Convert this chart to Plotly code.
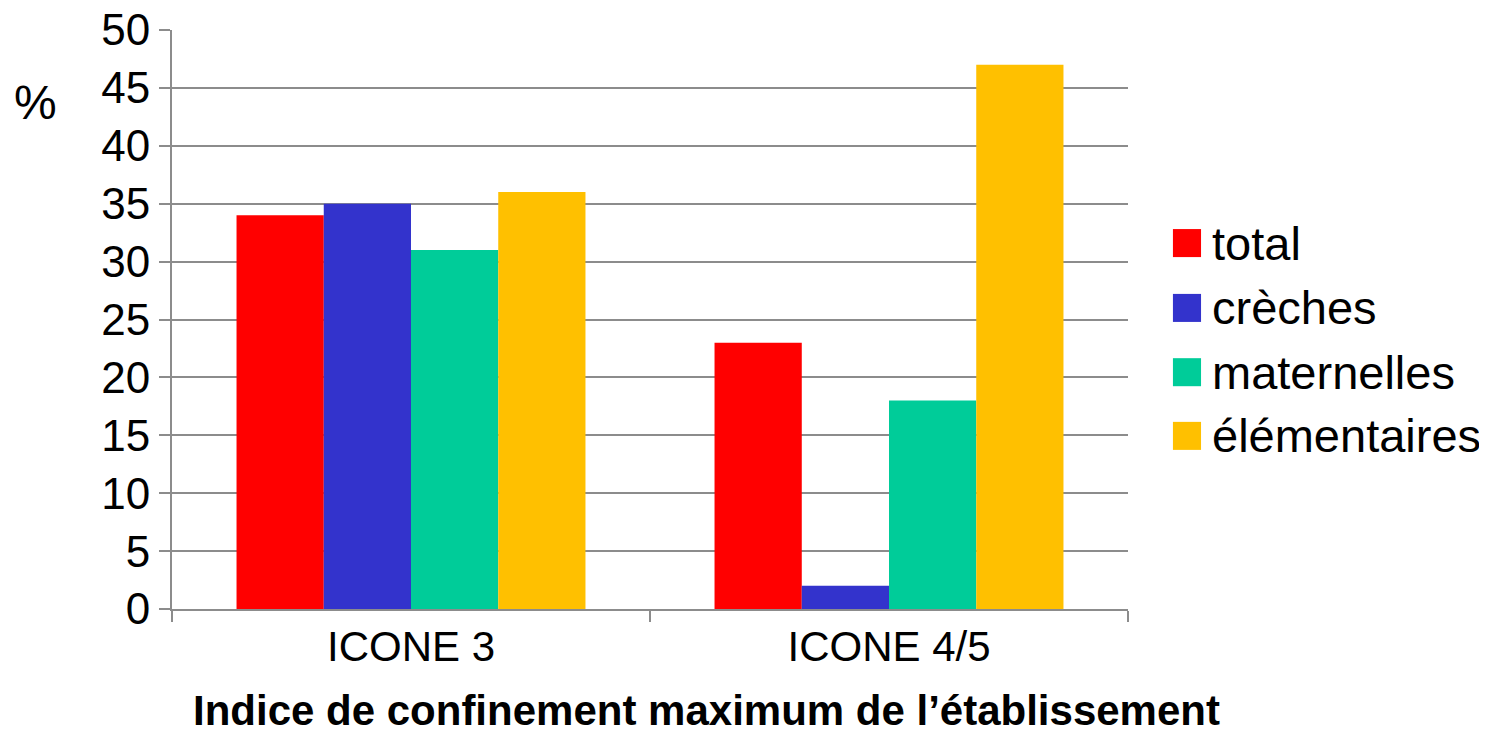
import plotly.graph_objects as go

categories = ["ICONE 3", "ICONE 4/5"]
series_names = ["total", "crèches", "maternelles", "élémentaires"]
total = [34, 23]
creches = [35, 2]
maternelles = [31, 18]
elementaires = [36, 47]
series_values = [total, creches, maternelles, elementaires]
colors = ["#FF0000", "#3333CC", "#00CC99", "#FFC000"]
y_ticks = list(range(0, 51, 5))

FONT = "Liberation Sans, Arial, sans-serif"
GRID = "#8c8c8c"

fig = go.Figure()
for name, vals, col in zip(series_names, series_values, colors):
    fig.add_trace(go.Bar(x=categories, y=vals, name=name, marker_color=col,
                         marker_line_width=0, showlegend=False))

# custom legend (large squares)
legend_y = [0.632, 0.520, 0.409, 0.299]
shapes = []
annotations = []
for name, col, ly in zip(series_names, colors, legend_y):
    shapes.append(dict(type="rect", xref="paper", yref="paper",
                       x0=1.047, x1=1.0764, y0=ly - 0.0242, y1=ly + 0.0242,
                       fillcolor=col, line_width=0))
    annotations.append(dict(x=1.086, y=ly, xref="paper", yref="paper", text=name,
                            showarrow=False, xanchor="left", yanchor="middle",
                            font=dict(family=FONT, size=47, color="black")))

annotations.append(dict(x=-0.1433, y=0.874, xref="paper", yref="paper", text="%",
                        showarrow=False, xanchor="center", yanchor="middle",
                        font=dict(family=FONT, size=48, color="black")))
annotations.append(dict(x=0.5596, y=-0.175, xref="paper", yref="paper",
                        text="<b>Indice de confinement maximum de l’établissement</b>",
                        showarrow=False, xanchor="center", yanchor="middle",
                        font=dict(family=FONT, size=42, color="black")))

fig.update_layout(
    width=1479, height=721,
    margin=dict(l=164, r=359, t=22, b=120, autoexpand=False),
    paper_bgcolor="white", plot_bgcolor="white",
    barmode="group", bargap=0.27, bargroupgap=0,
    font=dict(family=FONT, color="black"),
    shapes=shapes, annotations=annotations,
    showlegend=False,
)
fig.update_xaxes(
    tickson="boundaries", ticks="outside", ticklen=11, tickwidth=2, tickcolor=GRID,
    showline=True, linecolor=GRID, linewidth=2, showgrid=False, automargin=False,
    tickfont=dict(family=FONT, size=42, color="black"),
)
fig.update_yaxes(
    range=[0, 50], tickvals=y_ticks, ticks="outside", ticklen=11, tickwidth=2,
    tickcolor=GRID, showline=True, linecolor=GRID, linewidth=2, automargin=False,
    ticklabeloverflow="allow",
    showgrid=True, gridcolor=GRID, gridwidth=1.5, zeroline=False,
    tickfont=dict(family=FONT, size=44, color="black"),
)

fig.write_html("out.html")
